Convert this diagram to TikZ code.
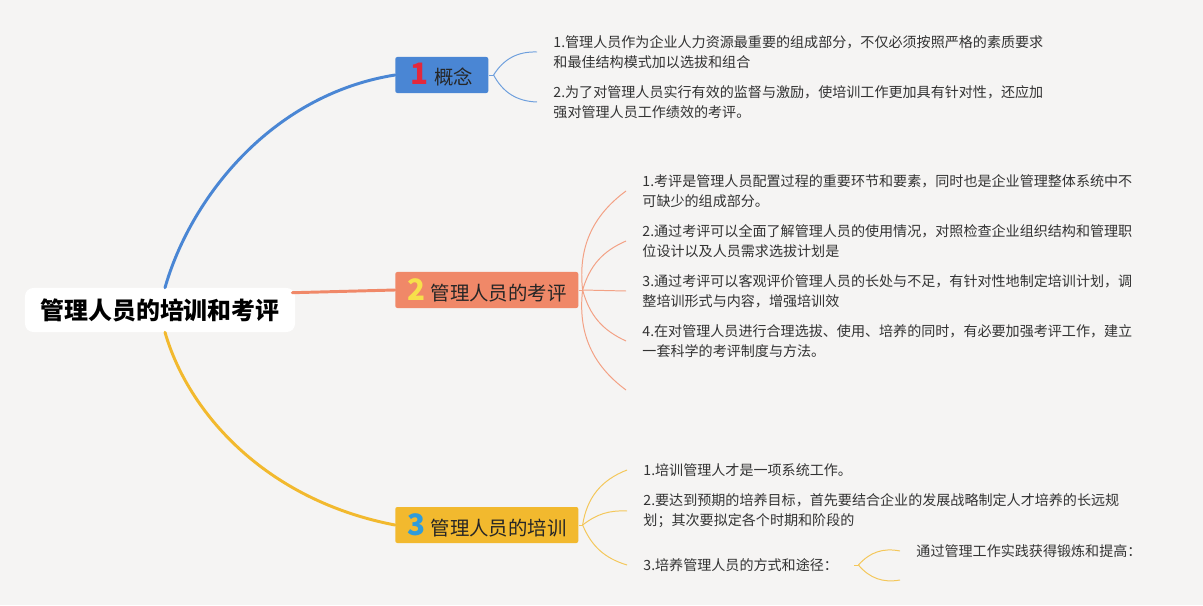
\documentclass[tikz,border=0pt]{standalone}
\usepackage{fontspec}
\setmainfont{Noto Sans CJK SC}
\usepackage{xcolor}
\definecolor{bgcolour}{HTML}{F5F4F3}
\definecolor{mapblue}{HTML}{4A86D4}
\definecolor{maporange}{HTML}{F08868}
\definecolor{mapyellow}{HTML}{F2B92E}
\definecolor{lineblue}{HTML}{6E9FDD}
\definecolor{lineorange}{HTML}{F3A184}
\definecolor{lineyellow}{HTML}{F4C75A}
\definecolor{numred}{HTML}{E3283C}
\definecolor{numyellow}{HTML}{F7E04B}
\definecolor{numblue}{HTML}{2F9CDB}
\definecolor{leaftext}{HTML}{333333}
\usepackage{tikz}
\usetikzlibrary{calc}
\newcommand{\topicnum}[2]{{\fontsize{21}{21}\selectfont\bfseries\color{#1}#2}\hspace{4pt}}

\begin{document}
\begin{tikzpicture}[x=0.025cm, y=-0.025cm,
  rootbox/.style={fill=white, rounded corners=6pt, minimum width=6.75cm, minimum height=1.1cm, font=\fontsize{17}{20}\selectfont\bfseries},
  topicbox/.style={anchor=west, rounded corners=1.5pt, minimum height=0.9cm, inner xsep=0pt, font=\fontsize{13.8}{17}\selectfont, text=black!85},
  leaf/.style={anchor=west, align=left, inner xsep=11.5pt, inner ysep=0pt, font=\fontsize{10}{14.2}\selectfont, text=leaftext},
  mainline/.style={line width=2.1pt, line cap=round},
  leafline/.style={line width=0.7pt}]
% canvas
\fill[bgcolour] (0,0) rectangle (1203,605);
\useasboundingbox (0,0) rectangle (1203,605);
% centre and topics
\node[rootbox] (root) at (160,310) {管理人员的培训和考评};
\node[topicbox, fill=mapblue, minimum width=2.325cm] (b1) at (395,75) {\topicnum{numred}{1}概念};
\node[topicbox, fill=maporange, minimum width=4.575cm] (b2) at (395,290) {\topicnum{numyellow}{2}管理人员的考评};
\node[topicbox, fill=mapyellow, minimum width=4.575cm] (b3) at (395,525) {\topicnum{numblue}{3}管理人员的培训};
\draw[mainline, mapblue] ($(root.north)+(5,0)$) .. controls +(25,-88) and +(-125,20) .. (b1.west);
\draw[mainline, maporange] ($(root.north east)+(-3,5)$) -- (b2.west);
\draw[mainline, mapyellow] ($(root.south)+(5,0)$) .. controls +(23,80) and +(-130,-25) .. (b3.west);
% topic 1
\node[leaf] (l11) at (537,52) {1.管理人员作为企业人力资源最重要的组成部分，不仅必须按照严格的素质要求\\和最佳结构模式加以选拔和组合};
\node[leaf] (l12) at (537,102) {2.为了对管理人员实行有效的监督与激励，使培训工作更加具有针对性，还应加\\强对管理人员工作绩效的考评。};
\draw[leafline, lineblue] (b1.east) -- ++(5,0) coordinate (b1o);
\draw[leafline, lineblue] (b1o) to[bend left=30] (l11.west);
\draw[leafline, lineblue] (b1o) to[bend right=30] (l12.west);
% topic 2
\node[leaf] (l21) at (626,191) {1.考评是管理人员配置过程的重要环节和要素，同时也是企业管理整体系统中不\\可缺少的组成部分。};
\node[leaf] (l22) at (626,241) {2.通过考评可以全面了解管理人员的使用情况，对照检查企业组织结构和管理职\\位设计以及人员需求选拔计划是};
\node[leaf] (l23) at (626,291) {3.通过考评可以客观评价管理人员的长处与不足，有针对性地制定培训计划，调\\整培训形式与内容，增强培训效};
\node[leaf] (l24) at (626,341) {4.在对管理人员进行合理选拔、使用、培养的同时，有必要加强考评工作，建立\\一套科学的考评制度与方法。};
\coordinate (l25) at (626,390);
\draw[leafline, lineorange] (b2.east) -- ++(4,0) coordinate (b2o);
\draw[leafline, lineorange] (b2o) to[bend left=30] (l21.west);
\draw[leafline, lineorange] (b2o) to[bend left=25] (l22.west);
\draw[leafline, lineorange] (b2o) -- (l23.west);
\draw[leafline, lineorange] (b2o) to[bend right=25] (l24.west);
\draw[leafline, lineorange] (b2o) to[bend right=30] (l25);
% topic 3
\node[leaf] (l31) at (627,470) {1.培训管理人才是一项系统工作。};
\node[leaf] (l32) at (627,511) {2.要达到预期的培养目标，首先要结合企业的发展战略制定人才培养的长远规\\划；其次要拟定各个时期和阶段的};
\node[leaf] (l33) at (627,565) {3.培养管理人员的方式和途径：};
\node[leaf] (l331) at (900,551) {通过管理工作实践获得锻炼和提高：};
\coordinate (l332) at (900,580);
\draw[leafline, lineyellow] (b3.east) -- ++(4,0) coordinate (b3o);
\draw[leafline, lineyellow] (b3o) to[bend left=30] (l31.west);
\draw[leafline, lineyellow] (b3o) to[bend left=20] (l32.west);
\draw[leafline, lineyellow] (b3o) to[bend right=25] (l33.west);
\draw[leafline, lineyellow] (l33.east) -- ++(4,0) coordinate (l33o);
\draw[leafline, lineyellow] (l33o) to[bend left=30] (l331.west);
\draw[leafline, lineyellow] (l33o) to[bend right=30] (l332);
\end{tikzpicture}
\end{document}
